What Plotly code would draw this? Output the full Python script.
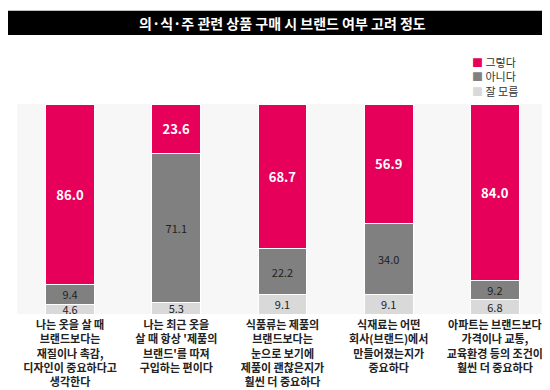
import plotly.graph_objects as go

categories = [
    "나는 옷을 살 때<br>브랜드보다는<br>재질이나 촉감,<br>디자인이 중요하다고<br>생각한다",
    "나는 최근 옷을<br>살 때 항상 '제품의<br>브랜드'를 따져<br>구입하는 편이다",
    "식품류는 제품의<br>브랜드보다는<br>눈으로 보기에<br>제품이 괜찮은지가<br>훨씬 더 중요하다",
    "식재료는 어떤<br>회사(브랜드)에서<br>만들어졌는지가<br>중요하다",
    "아파트는 브랜드보다<br>가격이나 교통,<br>교육환경 등의 조건이<br>훨씬 더 중요하다",
]
yes_vals = [86.0, 23.6, 68.7, 56.9, 84.0]
no_vals = [9.4, 71.1, 22.2, 34.0, 9.2]
dk_vals = [4.6, 5.3, 9.1, 9.1, 6.8]
series_names = ["그렇다", "아니다", "잘 모름"]
series_colors = ["#e6005a", "#808080", "#d9d9d9"]
title_text = "의·식·주 관련 상품 구매 시 브랜드 여부 고려 정도"

FONT = "Noto Sans CJK KR"
x_idx = list(range(len(categories)))

fig = go.Figure()
for vals, name, color, tcolor, tsize, tweight in [
    (dk_vals, series_names[2], series_colors[2], "#222", 11, "normal"),
    (no_vals, series_names[1], series_colors[1], "#222", 11, "normal"),
    (yes_vals, series_names[0], series_colors[0], "white", 13, "bold"),
]:
    fig.add_trace(go.Bar(
        x=x_idx, y=vals, name=name,
        marker=dict(color=color, line=dict(color="white", width=1)),
        text=[f"{v:.1f}" for v in vals], textposition="inside", insidetextanchor="middle",
        textangle=0, constraintext="none", cliponaxis=True,
        textfont=dict(color=tcolor, size=tsize, family=FONT, weight=tweight),
        showlegend=False,
    ))

legend_text = "<br>".join(
    f"<span style='color:{c}'>■</span> {n}" for n, c in zip(series_names, series_colors))

annotations = [
    dict(text=title_text, xref="paper", yref="paper",
         x=0.5, y=1 + (96 - 12.5) / 216, xanchor="center", yanchor="middle",
         showarrow=False, font=dict(size=14, color="white", family=FONT, weight="bold")),
    dict(text=legend_text, xref="paper", yref="paper", align="left",
         x=(462 - 9) / 531, y=1 + (96 - 43) / 216, xanchor="left", yanchor="top",
         showarrow=False, font=dict(size=11, color="#333", family=FONT)),
]

fig.update_layout(
    width=550, height=390,
    margin=dict(l=9, r=10, t=96, b=78),
    barmode="stack", bargap=0.54,
    paper_bgcolor="white", plot_bgcolor="#f7f7f7",
    font=dict(family=FONT, color="#222"),
    showlegend=False,
    xaxis=dict(tickmode="array", tickvals=x_idx, ticktext=categories, range=[-0.5, 4.5],
               showgrid=False, zeroline=False, showline=False, ticks="",
               ticklabelstandoff=3,
               tickfont=dict(size=11, color="#222", family=FONT, weight="bold")),
    yaxis=dict(range=[0, 100], showgrid=False, zeroline=False, showticklabels=False, showline=False),
    shapes=[dict(type="rect", xref="paper", yref="paper",
                 x0=-9 / 531, x1=1 + 10 / 531, y0=1 + (96 - 25) / 216, y1=1 + 96 / 216,
                 fillcolor="black", line=dict(width=0), layer="below")],
    annotations=annotations,
)

fig.write_html("out.html")
